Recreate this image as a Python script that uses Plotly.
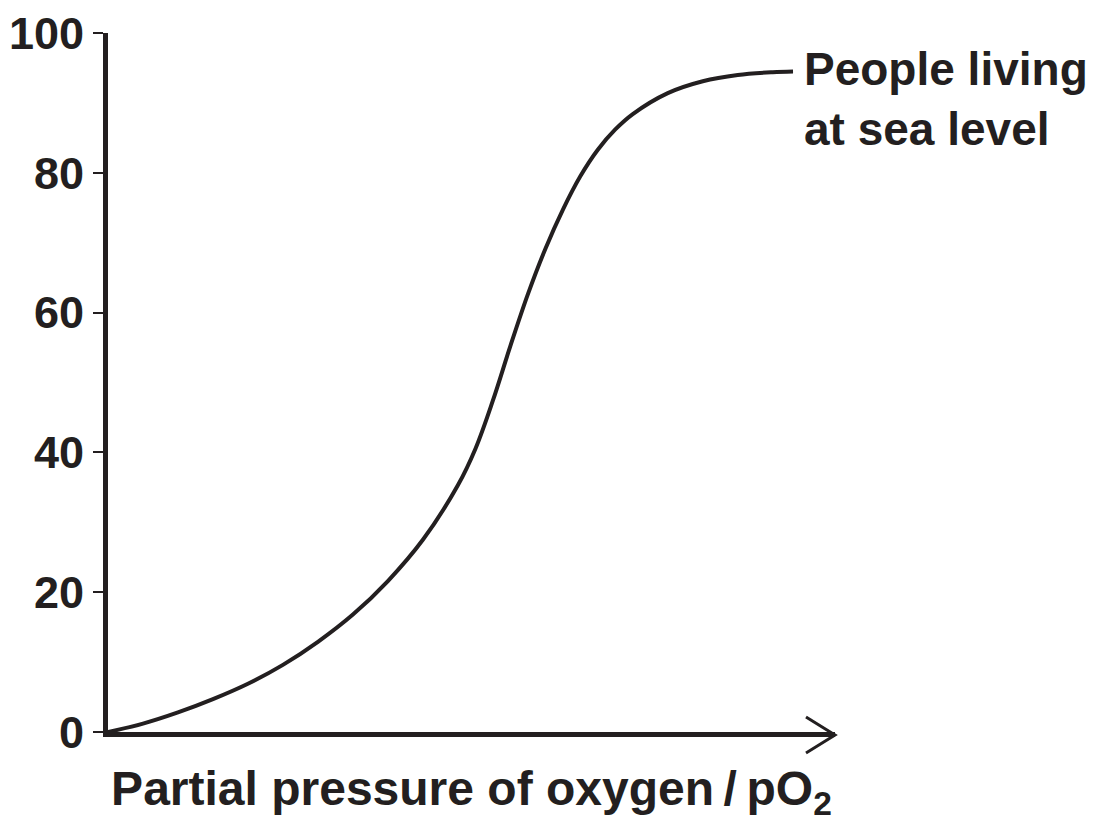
import plotly.graph_objects as go

# Data (x in arbitrary pO2 units, y in %)
po2 = [0, 0.5, 1, 1.5, 2, 2.5, 3, 3.5, 4, 4.5, 5, 5.25, 5.5, 5.75, 6, 6.25,
       6.5, 6.75, 7, 7.25, 7.5, 8, 8.5, 9, 9.5, 9.79]
saturation = [0, 1.2, 2.8, 4.7, 6.9, 9.6, 12.9, 16.8, 21.6, 27.5, 35.3, 40.5, 47.4,
              55.2, 62.6, 69.1, 74.7, 79.5, 83.3, 86.2, 88.4, 91.4, 93.1, 94.0, 94.4, 94.5]
y_ticks = [0, 20, 40, 60, 80, 100]
series_label = "People living<br>at sea level"
x_title = "Partial pressure of oxygen\u2009/\u2009pO<sub>2</sub>"

INK = "#231f20"
FONT = "Liberation Sans, Arial, Helvetica, sans-serif"
X_END = 10.39

fig = go.Figure()
fig.add_trace(go.Scatter(
    x=po2, y=saturation, mode="lines",
    line=dict(color=INK, width=4, shape="spline", smoothing=1.0),
    hoverinfo="skip", showlegend=False,
))

fig.add_annotation(
    x=po2[-1], y=saturation[-1], xref="x", yref="y",
    text=series_label, showarrow=False, align="left",
    xanchor="left", yanchor="top", xshift=9, yshift=30,
    font=dict(family=FONT, size=46, color=INK, weight="bold"),
)

# open arrow head at the end of the x axis
fig.add_shape(
    type="path", xref="paper", yref="paper",
    xsizemode="pixel", ysizemode="pixel", xanchor=1, yanchor=0,
    path="M -29,15 L 0,-3 L -29,-21",
    line=dict(color=INK, width=3),
)

fig.update_layout(
    width=1106, height=822,
    margin=dict(l=108, r=271, t=33, b=90),
    plot_bgcolor="white", paper_bgcolor="white",
    font=dict(family=FONT, color=INK),
    showlegend=False,
)
fig.update_xaxes(
    range=[0, X_END], showgrid=False, zeroline=False, automargin=False,
    showline=True, linewidth=5, linecolor=INK,
    showticklabels=False, ticks="",
    title=dict(text=x_title, standoff=38,
               font=dict(family=FONT, size=48, color=INK, weight="bold")),
)
fig.update_yaxes(
    range=[0, 100], tickvals=y_ticks, showgrid=False, zeroline=False, automargin=False,
    showline=True, linewidth=5, linecolor=INK,
    ticks="outside", ticklen=10, tickwidth=1.5, tickcolor=INK,
    ticklabelstandoff=0,
    tickfont=dict(family=FONT, size=45, color=INK, weight="bold"),
)

fig.write_html("out.html", config={"displayModeBar": False},
               post_script="document.body.style.margin='0';")
